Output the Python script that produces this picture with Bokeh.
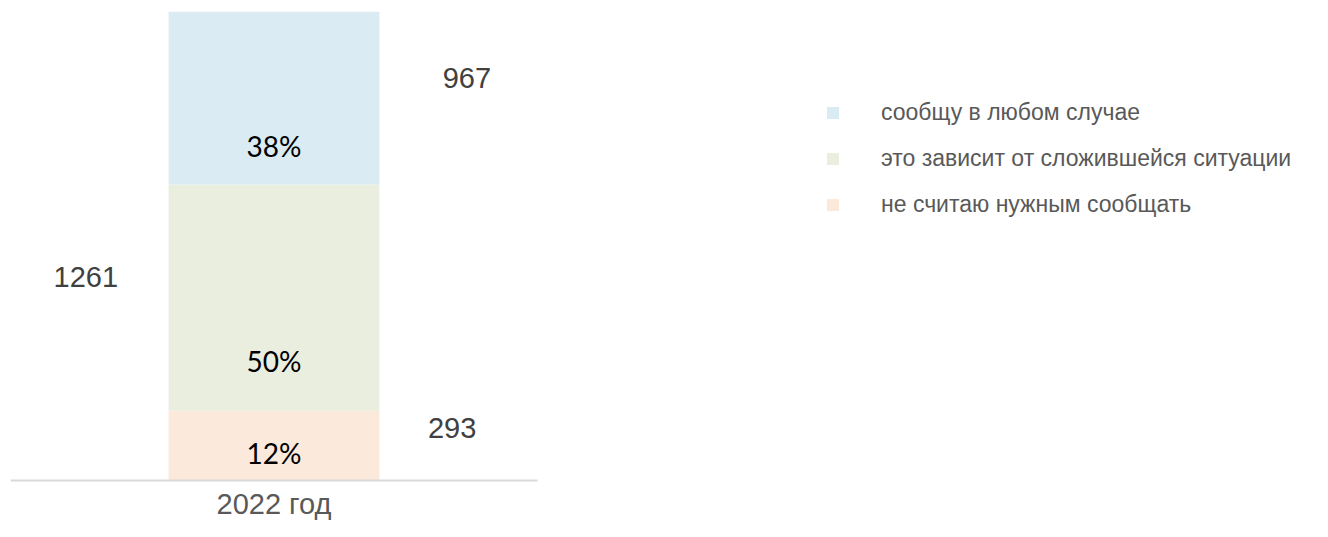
from bokeh.plotting import figure
from bokeh.models import (Range1d, Legend, LegendItem, ColumnDataSource)
from bokeh.core.properties import value
from bokeh.embed import file_html
from bokeh.resources import INLINE

# ---------------- data ----------------
categories = ["2022 год"]
series = ["не считаю нужным сообщать", "это зависит от сложившейся ситуации",
          "сообщу в любом случае"]            # bottom -> top
counts = [293, 1261, 967]                    # respondents per answer
pct_labels = ["12%", "50%", "38%"]
shares = [14.9, 48.2, 36.9]                  # segment heights as drawn (%)

colors = ["#FBE9DB", "#EAEEDF", "#DAEBF3"]

# ---------------- layout constants ----------------
W, H = 1312, 521
BAND = 527.0                                 # pixel width of one category band
X_END = (W - 10) / BAND - 0.5                # frame spans band + legend area
BAR_W = 0.4
PCT_FRAC = [0.40, 0.22, 0.22]                # label position inside segment
COUNT_DX = [0.338, -0.357, 0.366]            # horizontal offsets of counts
COUNT_Y = [11.1, 43.4, 85.8]                 # vertical position of counts
CAT_Y = -5.0

p = figure(width=W, height=H, output_backend="svg", toolbar_location=None,
           x_range=Range1d(-0.5, X_END), y_range=Range1d(-8.74, 100),
           min_border_left=10, min_border_right=0,
           min_border_top=11, min_border_bottom=0)
p.xaxis.visible = False
p.yaxis.visible = False
p.xgrid.visible = False
p.ygrid.visible = False
p.outline_line_color = None
p.background_fill_color = "white"
p.border_fill_color = "white"

idx = list(range(len(categories)))
data = {"x": idx}
for s, v in zip(series, shares):
    data[s] = [v]
src = ColumnDataSource(data)
rends = p.vbar_stack(series, x="x", width=BAR_W, color=colors, source=src,
                     line_color=None)

# baseline of the category band
p.segment(x0=[i - 0.5 for i in idx], x1=[i + 0.5 for i in idx],
          y0=[0] * len(idx), y1=[0] * len(idx), line_color="#D9D9D9",
          line_width=2)

# percent labels inside segments
bottoms = [sum(shares[:i]) for i in range(len(shares))]
pct_src = ColumnDataSource(dict(
    x=idx * len(series),
    y=[b + f * h for b, f, h in zip(bottoms, PCT_FRAC, shares)],
    t=pct_labels))
p.text(x="x", y="y", text="t", source=pct_src, text_align="center",
       text_baseline="middle", text_font=value("Lato"),
       text_font_size="28px", text_color="#000000")

# count labels beside the bar
cnt_src = ColumnDataSource(dict(
    x=[idx[0] + d for d in COUNT_DX], y=COUNT_Y, t=[str(c) for c in counts]))
p.text(x="x", y="y", text="t", source=cnt_src,
       text_align="center", text_baseline="middle",
       text_font=value("Liberation Sans"), text_font_size="29px",
       text_color="#404040")

# category label
cat_src = ColumnDataSource(dict(x=idx, y=[CAT_Y], t=categories))
p.text(x="x", y="y", text="t", source=cat_src, text_align="center",
       text_baseline="middle", text_font=value("Liberation Sans"),
       text_font_size="29px", text_color="#595959")

# legend (top item first)
items = [LegendItem(label=s, renderers=[r])
         for s, r in reversed(list(zip(series, rends)))]
legend = Legend(items=items, location=(815, 303), orientation="vertical",
                glyph_width=15, glyph_height=15, label_standoff=41,
                label_height=20, spacing=19, padding=0, margin=0,
                border_line_color=None, background_fill_alpha=0,
                label_text_font="Liberation Sans",
                label_text_font_size="23px", label_text_color="#595959")
p.add_layout(legend, "center")

open("out.html", "w").write(file_html(p, INLINE))
